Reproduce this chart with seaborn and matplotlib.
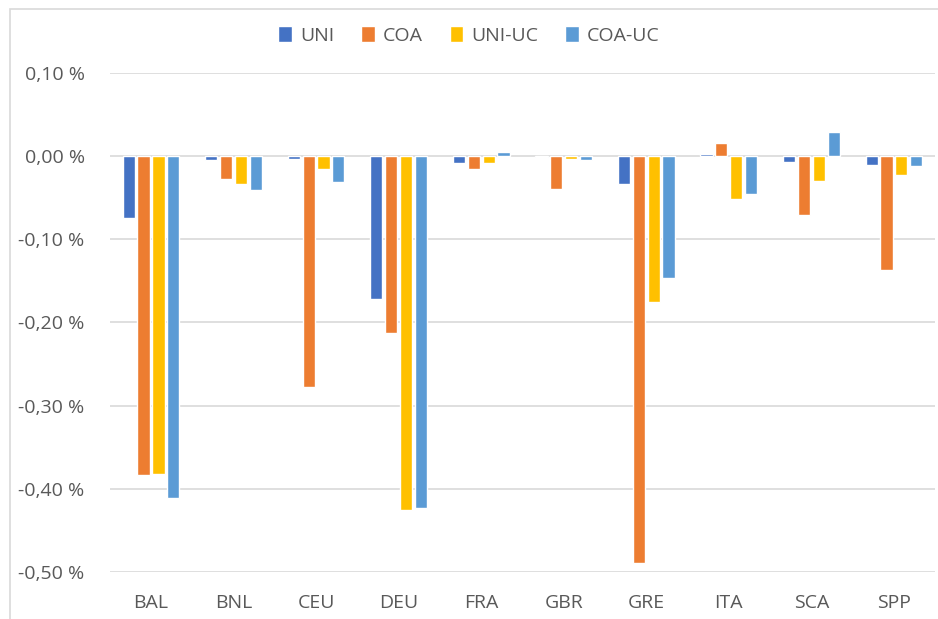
import matplotlib
matplotlib.use("Agg")
from matplotlib import pyplot as plt
from matplotlib.patches import Rectangle
from matplotlib.ticker import FuncFormatter
import pandas as pd
import seaborn as sns

# values in percent
regions = ["BAL", "BNL", "CEU", "DEU", "FRA", "GBR", "GRE", "ITA", "SCA", "SPP"]
series = ["UNI", "COA", "UNI-UC", "COA-UC"]
uni = [-0.074, -0.005, -0.003, -0.172, -0.008, -0.001, -0.034, 0.003, -0.007, -0.011]
coa = [-0.384, -0.027, -0.277, -0.213, -0.016, -0.040, -0.489, 0.016, -0.071, -0.137]
uni_uc = [-0.382, -0.034, -0.016, -0.425, -0.008, -0.003, -0.175, -0.052, -0.030, -0.023]
coa_uc = [-0.411, -0.041, -0.031, -0.423, 0.005, -0.004, -0.146, -0.045, 0.029, -0.012]
colors = ["#4472C4", "#ED7D31", "#FFC000", "#5B9BD5"]

df = pd.DataFrame({"region": regions, "UNI": uni, "COA": coa,
                   "UNI-UC": uni_uc, "COA-UC": coa_uc})
long = df.melt(id_vars="region", var_name="series", value_name="value")

sns.set_style("white")
plt.rcParams["font.family"] = ["Open Sans", "DejaVu Sans"]

fig = plt.figure(figsize=(9.38, 6.19), dpi=100)
ax = fig.add_axes([0.117, 0.076, 0.88, 0.806])

sns.barplot(data=long, x="region", y="value", hue="series", hue_order=series,
            palette=colors, width=0.72, gap=0.18, saturation=1, ax=ax,
            errorbar=None, zorder=3)

ax.set_ylim(-0.5, 0.1)
ax.set_yticks([0.1, 0.0, -0.1, -0.2, -0.3, -0.4, -0.5])
ax.yaxis.set_major_formatter(FuncFormatter(lambda v, p: f"{v:.2f} %".replace(".", ",")))
ax.grid(axis="y", color="#D9D9D9", linewidth=1.2, zorder=0)
ax.set_xlabel("")
ax.set_ylabel("")
for s in ax.spines.values():
    s.set_visible(False)
ax.tick_params(axis="both", length=0, labelsize=14, colors="#595959")
ax.tick_params(axis="x", pad=16)
ax.tick_params(axis="y", pad=18)

handles, labels = ax.get_legend_handles_labels()
ax.legend(handles, labels, loc="center", bbox_to_anchor=(0.5, 0.943),
          bbox_transform=fig.transFigure, ncol=4, frameon=False,
          fontsize=14, labelcolor="#595959", handlelength=0.7,
          handleheight=0.9, handletextpad=0.4, columnspacing=1.4)

# chart border like the spreadsheet frame
fig.patches.append(Rectangle((10 / 938, -0.1), 1.2, 1.1 - 9 / 619,
                             transform=fig.transFigure, fill=False,
                             edgecolor="#D9D9D9", linewidth=1.2))

fig.savefig("out.png", dpi=100)
